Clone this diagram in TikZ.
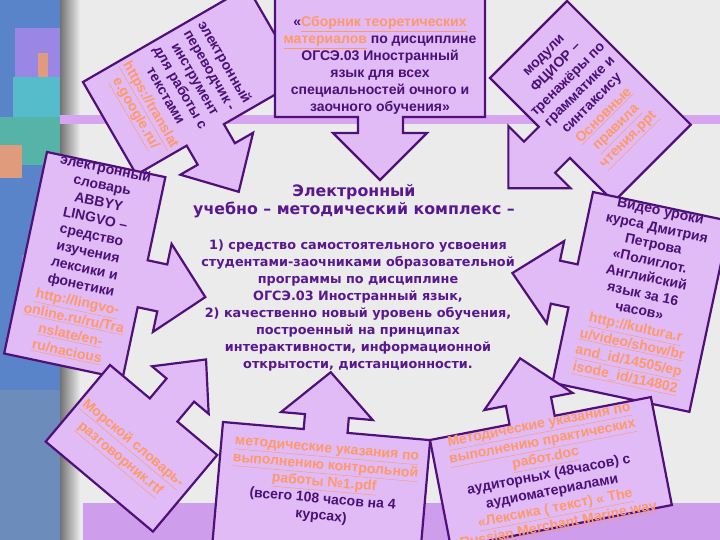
\documentclass[tikz,border=0pt]{standalone}
\usepackage{fontspec}
\setmainfont{Liberation Sans}
\newfontfamily\verdfont{DejaVu Sans}
\definecolor{bgc}{HTML}{EBEBEB}
\definecolor{boxc}{HTML}{E0BBF5}
\definecolor{edgec}{HTML}{50107A}
\definecolor{bandc}{HTML}{D7A4F0}
\definecolor{lowbandc}{HTML}{CE9DEC}
\definecolor{txtc}{HTML}{4A1078}
\definecolor{maintc}{HTML}{5A1890}
\definecolor{linkc}{HTML}{FF9966}
\definecolor{stripblue}{HTML}{5A84CA}
\definecolor{strippurple}{HTML}{9A86E4}
\definecolor{stripsalmon}{HTML}{E09A7C}
\definecolor{stripcyan}{HTML}{55BCCB}
\definecolor{stripteal}{HTML}{55B3A8}
\definecolor{stripgrey}{HTML}{6C8CBC}
\newcommand{\lnk}[1]{{\color{linkc}\underline{#1}}}
\begin{document}
\begin{tikzpicture}[x=1pt, y=-1pt,
	callout/.style={fill=boxc, draw=edgec, line width=2.2pt, line join=miter},
	boxtext/.style={align=center, text=txtc, inner sep=0pt, font=\bfseries\fontsize{14}{17}\selectfont},
	titletext/.style={align=center, text=maintc, inner sep=0pt, font=\verdfont\bfseries\fontsize{15.8}{18}\selectfont},
	bodytext/.style={align=center, text=maintc, inner sep=0pt, font=\verdfont\bfseries\fontsize{12.8}{17}\selectfont}]
	\useasboundingbox (0,0) rectangle (720,540);
	\clip (0,0) rectangle (720,540);
	\fill[bgc] (0,0) rectangle (720,540);
	% left strip
	\fill[stripblue] (0,0) rectangle (60,540);
	\fill[strippurple] (15,28) rectangle (60,77);
	\fill[stripsalmon] (38,53) rectangle (48,82);
	\fill[stripcyan] (13,77) rectangle (60,117);
	\fill[stripteal] (0,117) rectangle (60,165);
	\fill[stripsalmon] (0,145) rectangle (22,178);
	\fill[strippurple] (22,255) rectangle (60,330);
	\fill[stripgrey] (0,390) rectangle (60,540);
	\shade[left color=gray!90!black, right color=bgc] (60,0) rectangle (80,540);
	\fill[bandc] (60,115) rectangle (720,124);
	\fill[lowbandc] (83,503) rectangle (720,540);
	% top left
	\begin{scope}[shift={(247.5,-13)}, rotate=-60, transform shape]
		\draw[callout] (0,0) -- (107,0) -- (107,89) -- (129,89) -- (129,68) -- (173,110) -- (129,152) -- (129,132) -- (107,132) -- (107,190) -- (0,190) -- cycle;
		\node[boxtext] (tlText) at (53.5,110) {электронный\\переводчик -\\инструмент\\для работы с\\текстами\\\lnk{https://translat}\\\lnk{e.google.ru/}};
	\end{scope}
	% top
	\draw[callout] (275,-5) -- (485,-5) -- (485,117) -- (403,117) -- (403,133) -- (427,133) -- (380,180) -- (333,133) -- (358,133) -- (358,117) -- (275,117) -- cycle;
	\node[boxtext] (topText) at (380,65.5) {«\lnk{Сборник теоретических}\\\lnk{материалов} по дисциплине\\ОГСЭ.03 Иностранный\\язык для всех\\специальностей очного и\\заочного обучения»};
	% left
	\begin{scope}[shift={(47,152)}, rotate=-12, transform shape]
		\draw[callout] (0,0) -- (121,0) -- (121,85) -- (141,85) -- (141,64) -- (185,109) -- (141,154) -- (141,133) -- (121,133) -- (121,206) -- (0,206) -- cycle;
		\node[boxtext] (lText) at (61,98) {электронный\\словарь\\ABBYY\\LINGVO –\\средство\\изучения\\лексики и\\фонетики\\\lnk{http://lingvo-}\\\lnk{online.ru/ru/Tra}\\\lnk{nslate/en-}\\\lnk{ru/nacious}};
	\end{scope}
	% bottom left
	\begin{scope}[shift={(110,365)}, rotate=-40, transform shape]
		\draw[callout] (0,0) -- (52,0) -- (52,-26) -- (33,-26) -- (70,-66) -- (107,-26) -- (88,-26) -- (88,0) -- (140,0) -- (140,100) -- (0,100) -- cycle;
		\node[boxtext, font=\bfseries\fontsize{14}{20}\selectfont] (blText) at (68,56) {\lnk{Морской словарь-}\\\lnk{разговорник.rtf}};
	\end{scope}
	% top right
	\begin{scope}[shift={(490,78)}, rotate=45, transform shape]
		\draw[callout] (0,0) -- (109,0) -- (109,175) -- (0,175) -- (0,113) -- (-21,113) -- (-21,135) -- (-65,91) -- (-21,47) -- (-21,69) -- (0,69) -- cycle;
		\node[boxtext] (trText) at (54,84) {модули\\ФЦИОР –\\тренажёры по\\грамматике и\\синтаксису\\\lnk{Основные}\\\lnk{правила}\\\lnk{чтения.ppt}};
	\end{scope}
	% right
	\begin{scope}[shift={(593,192)}, rotate=-12, transform shape]
		\draw[callout] (0,0) -- (140,0) -- (140,195) -- (0,195) -- (0,118) -- (-18,118) -- (-18,138) -- (-62,96) -- (-18,54) -- (-18,74) -- (0,74) -- cycle;
		\node[boxtext] (rText) at (70,91) {Видео уроки\\курса Дмитрия\\Петрова\\«Полиглот.\\Английский\\язык за 16\\часов»\\\lnk{http://kultura.r}\\\lnk{u/video/show/br}\\\lnk{and\_id/14505/ep}\\\lnk{isode\_id/114802}};
	\end{scope}
	% bottom centre
	\begin{scope}[shift={(223,422)}, rotate=-5, transform shape]
		\draw[callout] (0,0) -- (81,0) -- (81,-15) -- (57,-15) -- (103,-59) -- (149,-15) -- (125,-15) -- (125,0) -- (208,0) -- (208,125) -- (0,125) -- cycle;
		\node[boxtext] (bcText) at (106,53) {\lnk{методические указания по}\\\lnk{выполнению контрольной}\\\lnk{работы №1.pdf}\\(всего 108 часов на 4\\курсах)};
	\end{scope}
	% bottom right
	\begin{scope}[shift={(430,440)}, rotate=11, transform shape]
		\draw[callout] (0,0) -- (81,0) -- (81,-19) -- (59,-19) -- (104,-63) -- (149,-19) -- (127,-19) -- (127,0) -- (225,0) -- (225,110) -- (0,110) -- cycle;
		\node[boxtext] (brText) at (110,57) {\lnk{Методические указания по}\\\lnk{выполнению практических}\\\lnk{работ.doc}\\аудиторных (48часов) с\\аудиоматериалами\\\lnk{«Лексика ( текст) « The}\\\lnk{Russian Merchant Marine.wav}};
	\end{scope}
	% centre
	\node[titletext] (titleText) at (354,201) {Электронный\\учебно – методический комплекс –};
	\node[bodytext] (bodyText) at (358,305.5) {1) средство самостоятельного усвоения\\студентами-заочниками образовательной\\программы по дисциплине\\ОГСЭ.03 Иностранный язык,\\2) качественно новый уровень обучения,\\построенный на принципах\\интерактивности, информационной\\открытости, дистанционности.};
\end{tikzpicture}
\end{document}
